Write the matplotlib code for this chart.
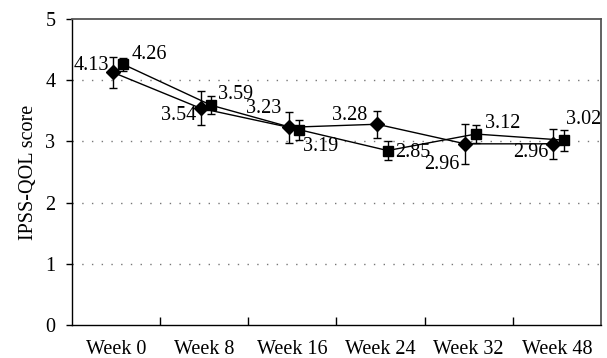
import matplotlib
matplotlib.use("Agg")
import matplotlib.pyplot as plt
import numpy as np

plt.rcParams['font.family'] = ['Liberation Serif', 'DejaVu Serif']

weeks = ["Week 0", "Week 8", "Week 16", "Week 24", "Week 32", "Week 48"]

group_a = [4.13, 3.54, 3.23, 3.28, 2.96, 2.96]
group_a_err = [0.25, 0.28, 0.25, 0.22, 0.33, 0.24]

group_b = [4.26, 3.59, 3.19, 2.85, 3.12, 3.02]
group_b_err = [0.11, 0.15, 0.16, 0.16, 0.15, 0.17]

# label offsets in pixels (dx, dy, ha)
a_label_pos = [(-4, 7, 'right'), (-4, -7, 'right'), (-8, 19, 'right'),
               (-10, 9, 'right'), (-6, -21, 'right'), (-5, -9, 'right')]
b_label_pos = [(9, 10, 'left'), (7, 11, 'left'), (4, -17, 'left'),
               (8, -2, 'left'), (9, 11, 'left'), (2, 21, 'left')]

fig = plt.figure(figsize=(6.07, 3.58), dpi=100)
ax = fig.add_axes([0.1186, 0.0922, 0.8714, 0.8548])

x = np.arange(len(weeks))
xa = x - 0.04
xb = x + 0.08

ax.errorbar(xa, group_a, yerr=group_a_err, color='black', lw=1.0,
            marker='D', markersize=7.5, capsize=3, elinewidth=1.0, capthick=1.0,
            zorder=3)
ax.errorbar(xb, group_b, yerr=group_b_err, color='black', lw=1.0,
            marker='s', markersize=7.5, capsize=3, elinewidth=1.0, capthick=1.0,
            zorder=3)

px = 72 / fig.dpi
for xi, v, (dx, dy, ha) in zip(xa, group_a, a_label_pos):
    ax.annotate(f"{v:.2f}", (xi, v), xytext=(dx * px, dy * px),
                textcoords='offset points', ha=ha, va='center', fontsize=14.5)
for xi, v, (dx, dy, ha) in zip(xb, group_b, b_label_pos):
    ax.annotate(f"{v:.2f}", (xi, v), xytext=(dx * px, dy * px),
                textcoords='offset points', ha=ha, va='center', fontsize=14.5)

ax.set_xlim(-0.5, len(weeks) - 0.5)
ax.set_ylim(0, 5)

ax.set_xticks(x)
ax.set_xticklabels(weeks, fontsize=14.5)
ax.tick_params(axis='x', which='major', length=0, pad=11)
ax.set_xticks(x[:-1] + 0.5, minor=True)
ax.tick_params(axis='x', which='minor', direction='in', length=6, width=1.0)

ax.set_yticks([0, 1, 2, 3, 4, 5])
ax.tick_params(axis='y', direction='out', length=4, width=1.0, labelsize=14.5, pad=8)

for yv in [1, 2, 3, 4]:
    ax.axhline(yv, color='#777777', lw=1.0, linestyle=(0, (1, 6)), zorder=1)

ax.set_ylabel("IPSS-QOL score", fontsize=14.5, labelpad=5)

for side in ['left', 'bottom']:
    ax.spines[side].set_color('black')
    ax.spines[side].set_linewidth(1.0)
for side in ['top', 'right']:
    ax.spines[side].set_color('#555555')
    ax.spines[side].set_linewidth(1.3)

fig.savefig("out.png", dpi=100)
